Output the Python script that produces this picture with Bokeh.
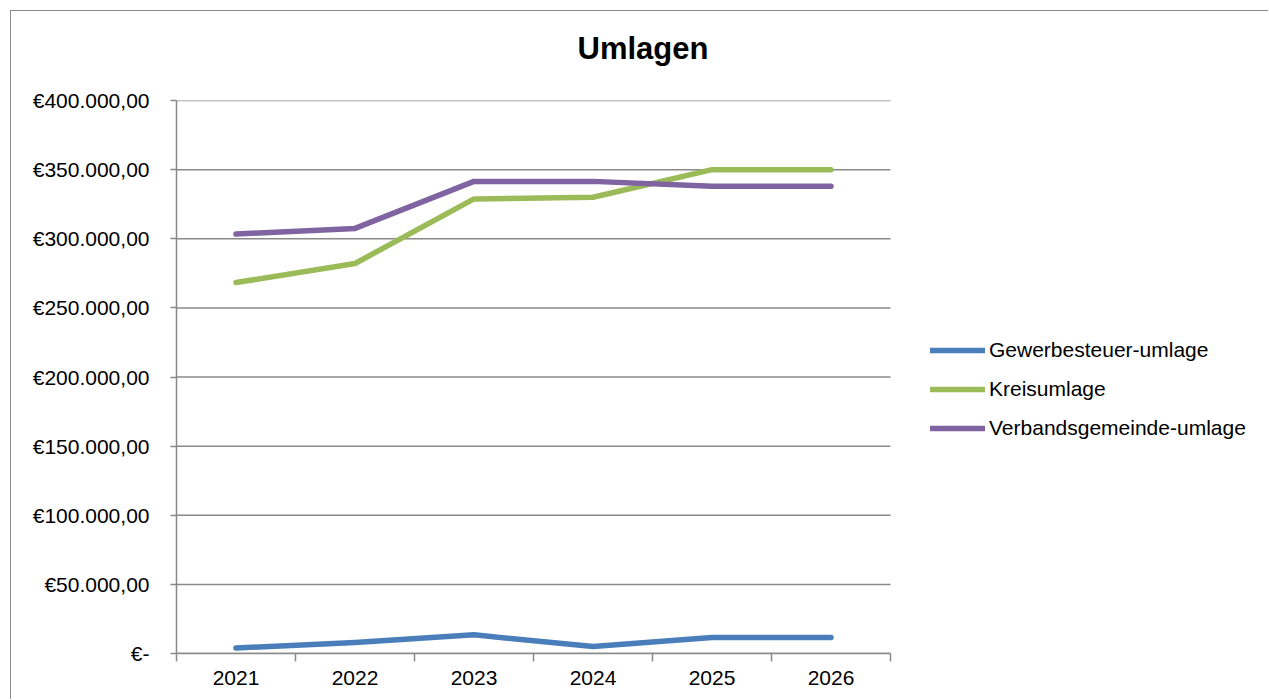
from bokeh.plotting import figure
from bokeh.models import FixedTicker, Legend, LegendItem, Range1d, Title
from bokeh.embed import file_html
from bokeh.resources import INLINE

years = ["2021", "2022", "2023", "2024", "2025", "2026"]
gewerbesteuer = [4000, 8000, 13500, 5000, 11600, 11600]
kreisumlage = [268300, 282100, 328800, 330000, 350000, 350000]
verbandsgemeinde = [303400, 307500, 341500, 341500, 337900, 337900]
series_names = ["Gewerbesteuer-umlage", "Kreisumlage", "Verbandsgemeinde-umlage"]
y_ticks = [0, 50000, 100000, 150000, 200000, 250000, 300000, 350000, 400000]
y_labels = ["€-", "€50.000,00", "€100.000,00", "€150.000,00", "€200.000,00",
            "€250.000,00", "€300.000,00", "€350.000,00", "€400.000,00"]
title_text = "Umlagen"

FONT = "Liberation Sans"
GRAY = "#898989"
colors = ["#4A7EBB", "#9BBB59", "#8064A2"]

n = len(years)
xs = [i + 0.5 for i in range(n)]

# plot area (axes part) spans 176..890 px; the frame continues to 1269 px so the
# legend can sit to the right of the axes
FRAME_LEFT, AXES_RIGHT, FRAME_RIGHT = 176, 890, 1269
x_end = n * (FRAME_RIGHT - FRAME_LEFT) / (AXES_RIGHT - FRAME_LEFT)

p = figure(width=1258, height=689, output_backend="svg", toolbar_location=None,
           x_range=Range1d(0, x_end), y_range=Range1d(y_ticks[0], y_ticks[-1]),
           min_border_left=165, min_border_right=0, min_border_top=89,
           min_border_bottom=47)
p.styles = {"border-left": "1px solid #898989", "border-top": "1px solid #898989",
            "margin-left": "10px", "margin-top": "10px"}

p.outline_line_color = None
p.background_fill_color = "white"
p.border_fill_color = "white"

# spacer between frame and title (closest to the frame), then the title
spacer = Title(text=" ", text_font=FONT, text_font_size="1px", standoff=32)
p.add_layout(spacer, "above")
t = Title(text=title_text, text_font=FONT, text_font_size="31px",
          text_font_style="bold", text_color="black", align="left",
          offset=401, standoff=0)
p.add_layout(t, "above")

# y axis
p.yaxis.ticker = FixedTicker(ticks=y_ticks, minor_ticks=[])
p.yaxis.major_label_overrides = {v: l for v, l in zip(y_ticks, y_labels)}
p.yaxis.axis_line_color = GRAY
p.yaxis.axis_line_width = 1.5
p.yaxis.major_tick_line_color = GRAY
p.yaxis.major_tick_line_width = 1.5
p.yaxis.major_tick_out = 6
p.yaxis.major_tick_in = 0
p.yaxis.major_label_standoff = 21
p.yaxis.major_label_text_font = FONT
p.yaxis.major_label_text_font_size = "21px"
p.yaxis.major_label_text_color = "black"

# x axis
p.xaxis.ticker = FixedTicker(ticks=xs, minor_ticks=list(range(n + 1)))
p.xaxis.bounds = (0, n)
p.xaxis.major_label_overrides = {x: y for x, y in zip(xs, years)}
p.xaxis.axis_line_color = GRAY
p.xaxis.axis_line_width = 1.5
p.xaxis.major_tick_line_color = None
p.xaxis.major_tick_out = 0
p.xaxis.major_tick_in = 0
p.xaxis.minor_tick_line_color = GRAY
p.xaxis.minor_tick_line_width = 1.5
p.xaxis.minor_tick_out = 8
p.xaxis.minor_tick_in = 0
p.xaxis.major_label_standoff = 9
p.xaxis.major_label_text_font = FONT
p.xaxis.major_label_text_font_size = "21px"
p.xaxis.major_label_text_color = "black"

p.xgrid.grid_line_color = None
p.ygrid.grid_line_color = None
p.segment(x0=[0] * len(y_ticks), x1=[n] * len(y_ticks), y0=y_ticks, y1=y_ticks,
          line_color=GRAY, line_width=1.5, level="underlay")

items = []
for name, vals, c in zip(series_names, [gewerbesteuer, kreisumlage, verbandsgemeinde], colors):
    r = p.line(xs, vals, line_color=c, line_width=5.5, line_cap="round", line_join="round")
    items.append(LegendItem(label=name, renderers=[r]))

legend = Legend(items=items, location=(754, 213), glyph_width=55, glyph_height=20,
                label_standoff=4, spacing=15, padding=0, margin=0,
                label_text_font=FONT, label_text_font_size="21px",
                label_text_color="black", border_line_color=None,
                background_fill_alpha=0)
p.add_layout(legend, "center")

open("out.html", "w").write(file_html(p, INLINE))
